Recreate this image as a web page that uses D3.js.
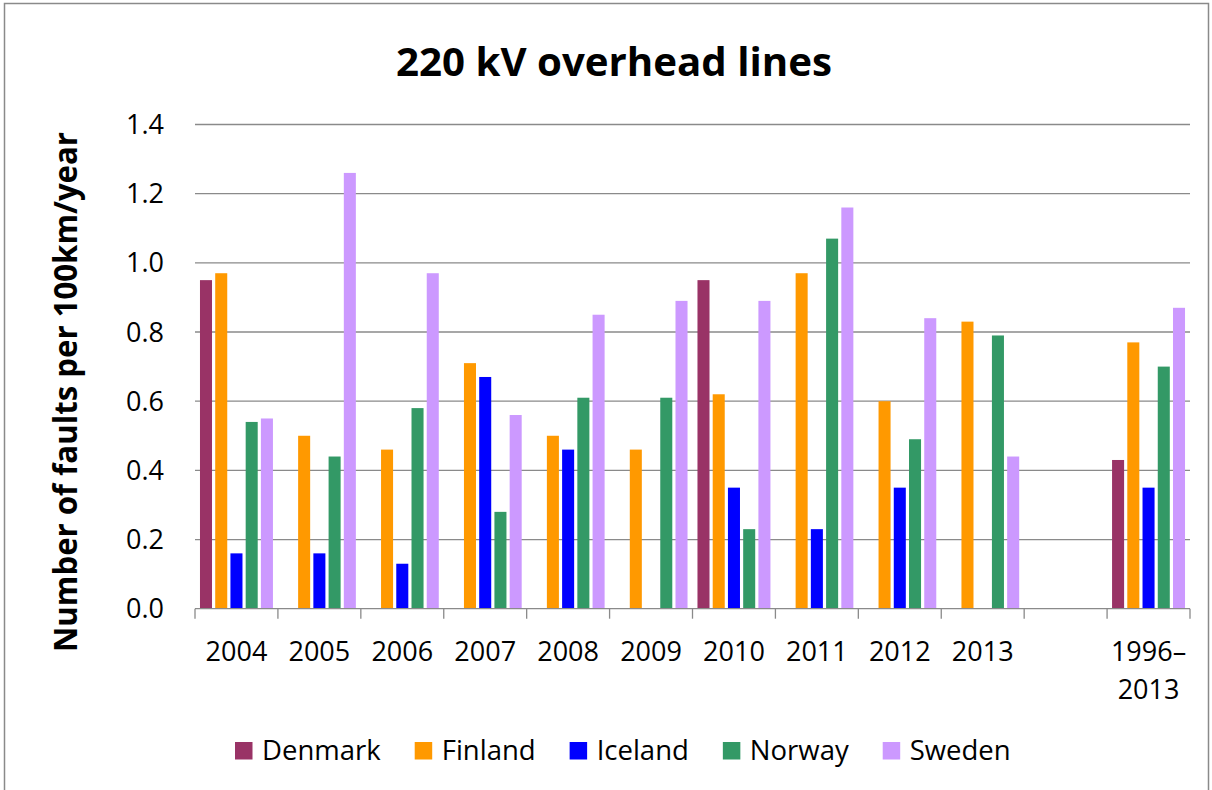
<!DOCTYPE html>
<html>
<head>
<meta charset="utf-8">
<script src="https://cdn.jsdelivr.net/npm/d3@7"></script>
<style>
  body { margin: 0; background: #fff; }
  text { font-family: "Open Sans", "Liberation Sans", sans-serif; fill: #000; }
</style>
</head>
<body>
<div id="chart"></div>
<script>
// data
var categories = ["2004", "2005", "2006", "2007", "2008", "2009", "2010", "2011", "2012", "2013", "", "1996–2013"];
var countries = ["Denmark", "Finland", "Iceland", "Norway", "Sweden"];
var denmark = [0.95, null, null, null, null, null, 0.95, null, null, null, null, 0.43];
var finland = [0.97, 0.50, 0.46, 0.71, 0.50, 0.46, 0.62, 0.97, 0.60, 0.83, null, 0.77];
var iceland = [0.16, 0.16, 0.13, 0.67, 0.46, null, 0.35, 0.23, 0.35, null, null, 0.35];
var norway = [0.54, 0.44, 0.58, 0.28, 0.61, 0.61, 0.23, 1.07, 0.49, 0.79, null, 0.70];
var sweden = [0.55, 1.26, 0.97, 0.56, 0.85, 0.89, 0.89, 1.16, 0.84, 0.44, null, 0.87];
var yTicks = [0, 0.2, 0.4, 0.6, 0.8, 1.0, 1.2, 1.4];

var colors = {
  Denmark: "#993366",
  Finland: "#ff9900",
  Iceland: "#0000ff",
  Norway: "#339966",
  Sweden: "#cc99ff"
};
var seriesData = { Denmark: denmark, Finland: finland, Iceland: iceland, Norway: norway, Sweden: sweden };

var svgWidth = 1212;
var svgHeight = 790;
var plot = { left: 195, right: 1190, top: 124.5, bottom: 608.7 };

var svg = d3.select("#chart")
  .append("svg")
  .attr("width", svgWidth)
  .attr("height", svgHeight);

// outer frame
svg.append("rect")
  .attr("x", 4.5).attr("y", 3.5)
  .attr("width", 1204).attr("height", 800)
  .attr("fill", "none")
  .attr("stroke", "#8a8a8a")
  .attr("stroke-width", 1.5);

// scales
var x0 = d3.scaleBand()
  .domain(categories)
  .range([plot.left, plot.right])
  .paddingInner(0.12)
  .paddingOuter(0.06);

var x1 = d3.scaleBand()
  .domain(countries)
  .range([0, x0.bandwidth()])
  .paddingInner(0.21);

var y = d3.scaleLinear()
  .domain([0, 1.4])
  .range([plot.bottom, plot.top]);

// gridlines
svg.append("g")
  .selectAll("line")
  .data(yTicks.slice(1))
  .enter()
  .append("line")
  .attr("x1", plot.left)
  .attr("x2", plot.right)
  .attr("y1", d => y(d))
  .attr("y2", d => y(d))
  .attr("stroke", "#8a8a8a")
  .attr("stroke-width", 1.3);

// y tick labels
svg.append("g")
  .selectAll("text")
  .data(yTicks)
  .enter()
  .append("text")
  .attr("x", 164)
  .attr("y", d => y(d) + 9.5)
  .attr("text-anchor", "end")
  .attr("font-size", "27px")
  .text(d => d3.format(".1f")(d));

// bars
var rows = [];
categories.forEach(function(c, i) {
  countries.forEach(function(k) {
    var v = seriesData[k][i];
    if (v != null) rows.push({ cat: c, country: k, value: v });
  });
});

svg.append("g")
  .selectAll("rect")
  .data(rows)
  .enter()
  .append("rect")
  .attr("x", d => x0(d.cat) + x1(d.country))
  .attr("y", d => y(d.value))
  .attr("width", x1.bandwidth())
  .attr("height", d => y(0) - y(d.value))
  .attr("fill", d => colors[d.country]);

// x axis line + ticks at category boundaries
var step = x0.step();
var xAxisG = svg.append("g");
xAxisG.append("line")
  .attr("x1", plot.left).attr("x2", plot.right)
  .attr("y1", plot.bottom).attr("y2", plot.bottom)
  .attr("stroke", "#8a8a8a")
  .attr("stroke-width", 1.3);
xAxisG.selectAll(".tick")
  .data(d3.range(categories.length + 1))
  .enter()
  .append("line")
  .attr("x1", i => plot.left + i * step)
  .attr("x2", i => plot.left + i * step)
  .attr("y1", plot.bottom)
  .attr("y2", plot.bottom + 10)
  .attr("stroke", "#8a8a8a")
  .attr("stroke-width", 1.3);

// x labels (split long one after the dash)
var xLabels = xAxisG.selectAll(".xlabel")
  .data(categories)
  .enter()
  .append("text")
  .attr("class", "xlabel")
  .attr("text-anchor", "middle")
  .attr("font-size", "27px");
xLabels.each(function(d) {
  var dash = d.indexOf("–");
  var parts = dash > 0 ? [d.slice(0, dash + 1), d.slice(dash + 1)] : [d];
  var cx = x0(d) + x0.bandwidth() / 2;
  var t = d3.select(this);
  parts.forEach(function(p, j) {
    t.append("tspan")
      .attr("x", cx)
      .attr("y", 661 + j * 38)
      .text(p);
  });
});

// title
svg.append("text")
  .attr("x", 614)
  .attr("y", 76)
  .attr("text-anchor", "middle")
  .attr("font-size", "40px")
  .attr("font-weight", "bold")
  .attr("textLength", 436)
  .attr("lengthAdjust", "spacingAndGlyphs")
  .text("220 kV overhead lines");

// y axis title
svg.append("text")
  .attr("transform", "translate(77, 392) rotate(-90)")
  .attr("text-anchor", "middle")
  .attr("font-size", "33px")
  .attr("font-weight", "bold")
  .attr("textLength", 520)
  .attr("lengthAdjust", "spacingAndGlyphs")
  .text("Number of faults per 100km/year");

// legend
var legend = svg.append("g");
var lx = 235;
countries.forEach(function(k) {
  legend.append("rect")
    .attr("x", lx)
    .attr("y", 742)
    .attr("width", 17.5)
    .attr("height", 17.5)
    .attr("fill", colors[k]);
  var t = legend.append("text")
    .attr("x", lx + 27)
    .attr("y", 760)
    .attr("font-size", "27.5px")
    .text(k);
  lx += 27 + t.node().getComputedTextLength() + 34;
});
</script>
</body>
</html>
